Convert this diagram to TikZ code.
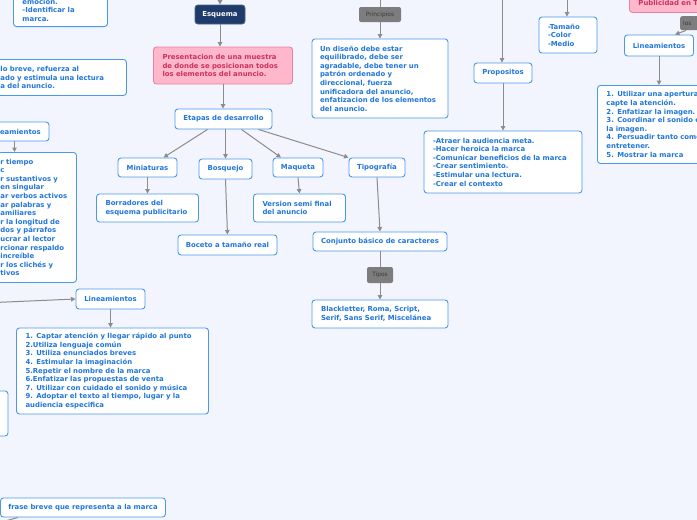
\documentclass[tikz,border=0pt]{standalone}
\usepackage{fontspec}
\usetikzlibrary{arrows.meta}
\newfontfamily\verd{DejaVu Sans}
\newcommand\txcaja{\verd\bfseries\fontsize{6.9}{8.6}\selectfont}
\newcommand\txetiq{\verd\fontsize{5.9}{7}\selectfont}
\definecolor{fondo}{HTML}{F2F5FD}
\definecolor{borde}{HTML}{4A98EC}
\definecolor{azul}{HTML}{2176D9}
\definecolor{gris}{HTML}{8C8C8C}
\definecolor{grisetiq}{HTML}{7D7D7D}
\definecolor{grisosc}{HTML}{3A3A3A}
\definecolor{marino}{HTML}{1F3B6B}
\definecolor{rosafondo}{HTML}{FFB7CB}
\definecolor{rosaborde}{HTML}{E8829F}
\definecolor{rosatexto}{HTML}{C9325F}
\tikzset{
  caja/.style   = {rectangle, rounded corners=3pt, draw=borde, line width=0.9pt, fill=white, text=azul, font=\txcaja, inner sep=0pt},
  lista/.style  = {caja, align=left, inner xsep=9pt, inner ysep=4pt},
  rosa/.style   = {lista, draw=rosaborde, fill=rosafondo, text=rosatexto},
  oscuro/.style = {caja, draw=marino!80, fill=marino, text=white},
  etiq/.style   = {rectangle, rounded corners=2pt, fill=grisetiq, text=grisosc, font=\txetiq, inner sep=0pt},
  flecha/.style = {draw=gris, line width=1pt, -{Triangle[length=4.5pt,width=4.5pt]}},
  linea/.style  = {draw=gris, line width=1pt}
}
\begin{document}
\begin{tikzpicture}[x=1pt, y=-1pt]
  \fill[fondo] (0,0) rectangle (697,520);
  \useasboundingbox (0,0) rectangle (697,520);
  \clip (0,0) rectangle (697,520);

  % columna izquierda
  \node[lista, text width=76, anchor=south west, inner ysep=5pt] (ident) at (13,27) {emoción.\\-Identificar la\\marca.};
  \node[lista, text width=117, anchor=north west, minimum height=36] (breve) at (-9,59) {lo breve,  refuerza al\\ado y estimula una lectura\\a del anuncio.};
  \node[caja, minimum width=69, minimum height=19] (linI) at (14.5,131.5) {Lineamientos};
  \node[lista, text width=70, inner xsep=6pt, anchor=north west, minimum height=130] (listaI) at (-6,152) {r tiempo\\c\\r sustantivos y\\en singular\\ar verbos activos\\ar palabras y\\amiliares\\r la longitud de\\dos y párrafos\\ucrar al lector\\rcionar respaldo\\increíble\\r los clichés y\\tivos};
  \node[caja, minimum width=69, minimum height=20] (linM) at (110.5,299) {Lineamientos};
  \node[lista, text width=174, minimum height=86] (listaM) at (112.5,371) {1. Captar atención y llegar rápido al punto\\2.Utiliza lenguaje común\\3. Utiliza enunciados breves\\4. Estimular la imaginación\\5.Repetir el nombre de la marca\\6.Enfatizar las propuestas de venta\\7. Utilizar con cuidado el sonido y música\\9. Adoptar el texto al tiempo, lugar y la\\audiencia especifica};
  \node[caja, minimum width=38, minimum height=45] (vacio) at (-11,413.5) {};
  \node[caja, minimum width=165, minimum height=19] (frase) at (83,507.5) {frase breve que representa a la marca};

  \coordinate (inM) at (-5,302.5);
  \coordinate (outF) at (-20,528);
  \draw[flecha] (linI.south) -- (linI.south |- listaI.north);
  \draw[flecha] (inM) -- (linM.west);
  \draw[flecha] (linM.south) -- (linM.south |- listaM.north);
  \draw[linea] ([xshift=18pt]frase.south west) -- (outF);

  % esquema
  \node[oscuro, minimum width=50, minimum height=19] (esq) at (220,14.5) {Esquema};
  \node[rosa, text width=121, minimum height=37] (pres) at (223,65.5) {Presentacion de una muestra\\de donde se posicionan todos\\los elementos del anuncio.};
  \node[caja, minimum width=97, minimum height=20] (etapas) at (223.5,119) {Etapas de desarrollo};
  \node[caja, minimum width=59, minimum height=19] (mini) at (147.5,167.5) {Miniaturas};
  \node[caja, minimum width=53, minimum height=20] (bosq) at (225.5,169) {Bosquejo};
  \node[caja, minimum width=50, minimum height=19] (maq) at (298,167.5) {Maqueta};
  \node[caja, minimum width=56, minimum height=19] (tipo) at (377,167.5) {Tipografía};
  \node[lista, text width=84, minimum height=28] (borr) at (147.5,208) {Borradores del\\esquema publicitario};
  \node[caja, minimum width=99, minimum height=20] (boceto) at (227.5,245) {Boceto a tamaño real};
  \node[lista, text width=74, minimum height=28] (version) at (299.5,208) {Version semi final\\del anuncio};
  \node[caja, minimum width=134, minimum height=19] (conj) at (380,241.5) {Conjunto básico de caracteres};
  \node[etiq, minimum width=26, minimum height=16] (tipos) at (380,275) {Tipos};
  \node[lista, text width=118, minimum height=28] (black) at (380,314) {Blackletter, Roma, Script,\\Serif, Sans Serif, Miscelánea};

  \coordinate (inE) at (220,-10);
  \draw[flecha] (inE) -- (esq.north);
  \draw[flecha] (esq.south) -- (esq.south |- pres.north);
  \draw[flecha] (pres.south) -- (pres.south |- etapas.north);
  \draw[flecha] ([xshift=-16pt]etapas.south) -- ([xshift=16pt]mini.north);
  \draw[flecha] ([xshift=2pt]etapas.south) -- (bosq.north);
  \draw[flecha] ([xshift=18pt]etapas.south) -- ([xshift=-17pt]maq.north);
  \draw[flecha] ([xshift=35pt]etapas.south) -- (tipo.north west);
  \draw[flecha] (mini.south) -- (borr.north);
  \draw[flecha] (bosq.south) -- (boceto.north);
  \draw[flecha] (maq.south) -- (version.north);
  \draw[flecha] (tipo.south) -- (conj.north);
  \draw[linea] (conj.south) -- (tipos.north);
  \draw[flecha] (tipos.south) -- (black.north);

  % principios y propositos
  \node[etiq, minimum width=42, minimum height=15] (princ) at (380,14.5) {Principios};
  \node[lista, text width=120, inner xsep=8pt, minimum height=79] (diseno) at (380,78.5) {Un diseño debe estar\\equilibrado, debe ser\\agradable, debe tener un\\patrón ordenado y\\direccional, fuerza\\unificadora del anuncio,\\enfatizacion de los elementos\\del anuncio.};
  \node[caja, minimum width=58, minimum height=20] (prop) at (503,73) {Propositos};
  \node[lista, text width=140, minimum height=62] (listaP) at (503,162) {-Atraer la audiencia meta.\\-Hacer heroica la marca\\-Comunicar beneficios de la marca\\-Crear sentimiento.\\-Estimular una lectura.\\-Crear el contexto};
  \node[lista, text width=40, minimum height=36] (medio) at (568,35) {-Tamaño\\-Color\\-Medio};

  \coordinate (inP) at (380,-10);
  \coordinate (inR) at (502,-10);
  \coordinate (inT) at (567,-10);
  \draw[linea] (inP) -- (princ.north);
  \draw[flecha] (princ.south) -- (diseno.north);
  \draw[flecha] (inR) -- (inR |- prop.north);
  \draw[flecha] (prop.south) -- (prop.south |- listaP.north);
  \draw[flecha] (inT) -- (inT |- medio.north);

  % publicidad en television
  \node[rosa, text width=120, anchor=north west, minimum height=19] (publi) at (629,-7) {Publicidad en Televisión};
  \node[etiq, anchor=north west, minimum height=14, text width=30, align=left, inner xsep=3pt] (los) at (680,16) {los};
  \node[caja, minimum width=69, minimum height=21] (linD) at (659,45.5) {Lineamientos};
  \node[lista, text width=150, anchor=north west, minimum height=78] (listaD) at (597,85) {1. Utilizar una apertura que\\capte la atención.\\2. Enfatizar la imagen.\\3. Coordinar el sonido con\\la imagen.\\4. Persuadir tanto como\\entretener.\\5. Mostrar la marca};

  \draw[flecha] ([xshift=6pt]los.south west) -- ([xshift=16pt]linD.north);
  \draw[flecha] (linD.south) -- (linD.south |- listaD.north);
\end{tikzpicture}
\end{document}
